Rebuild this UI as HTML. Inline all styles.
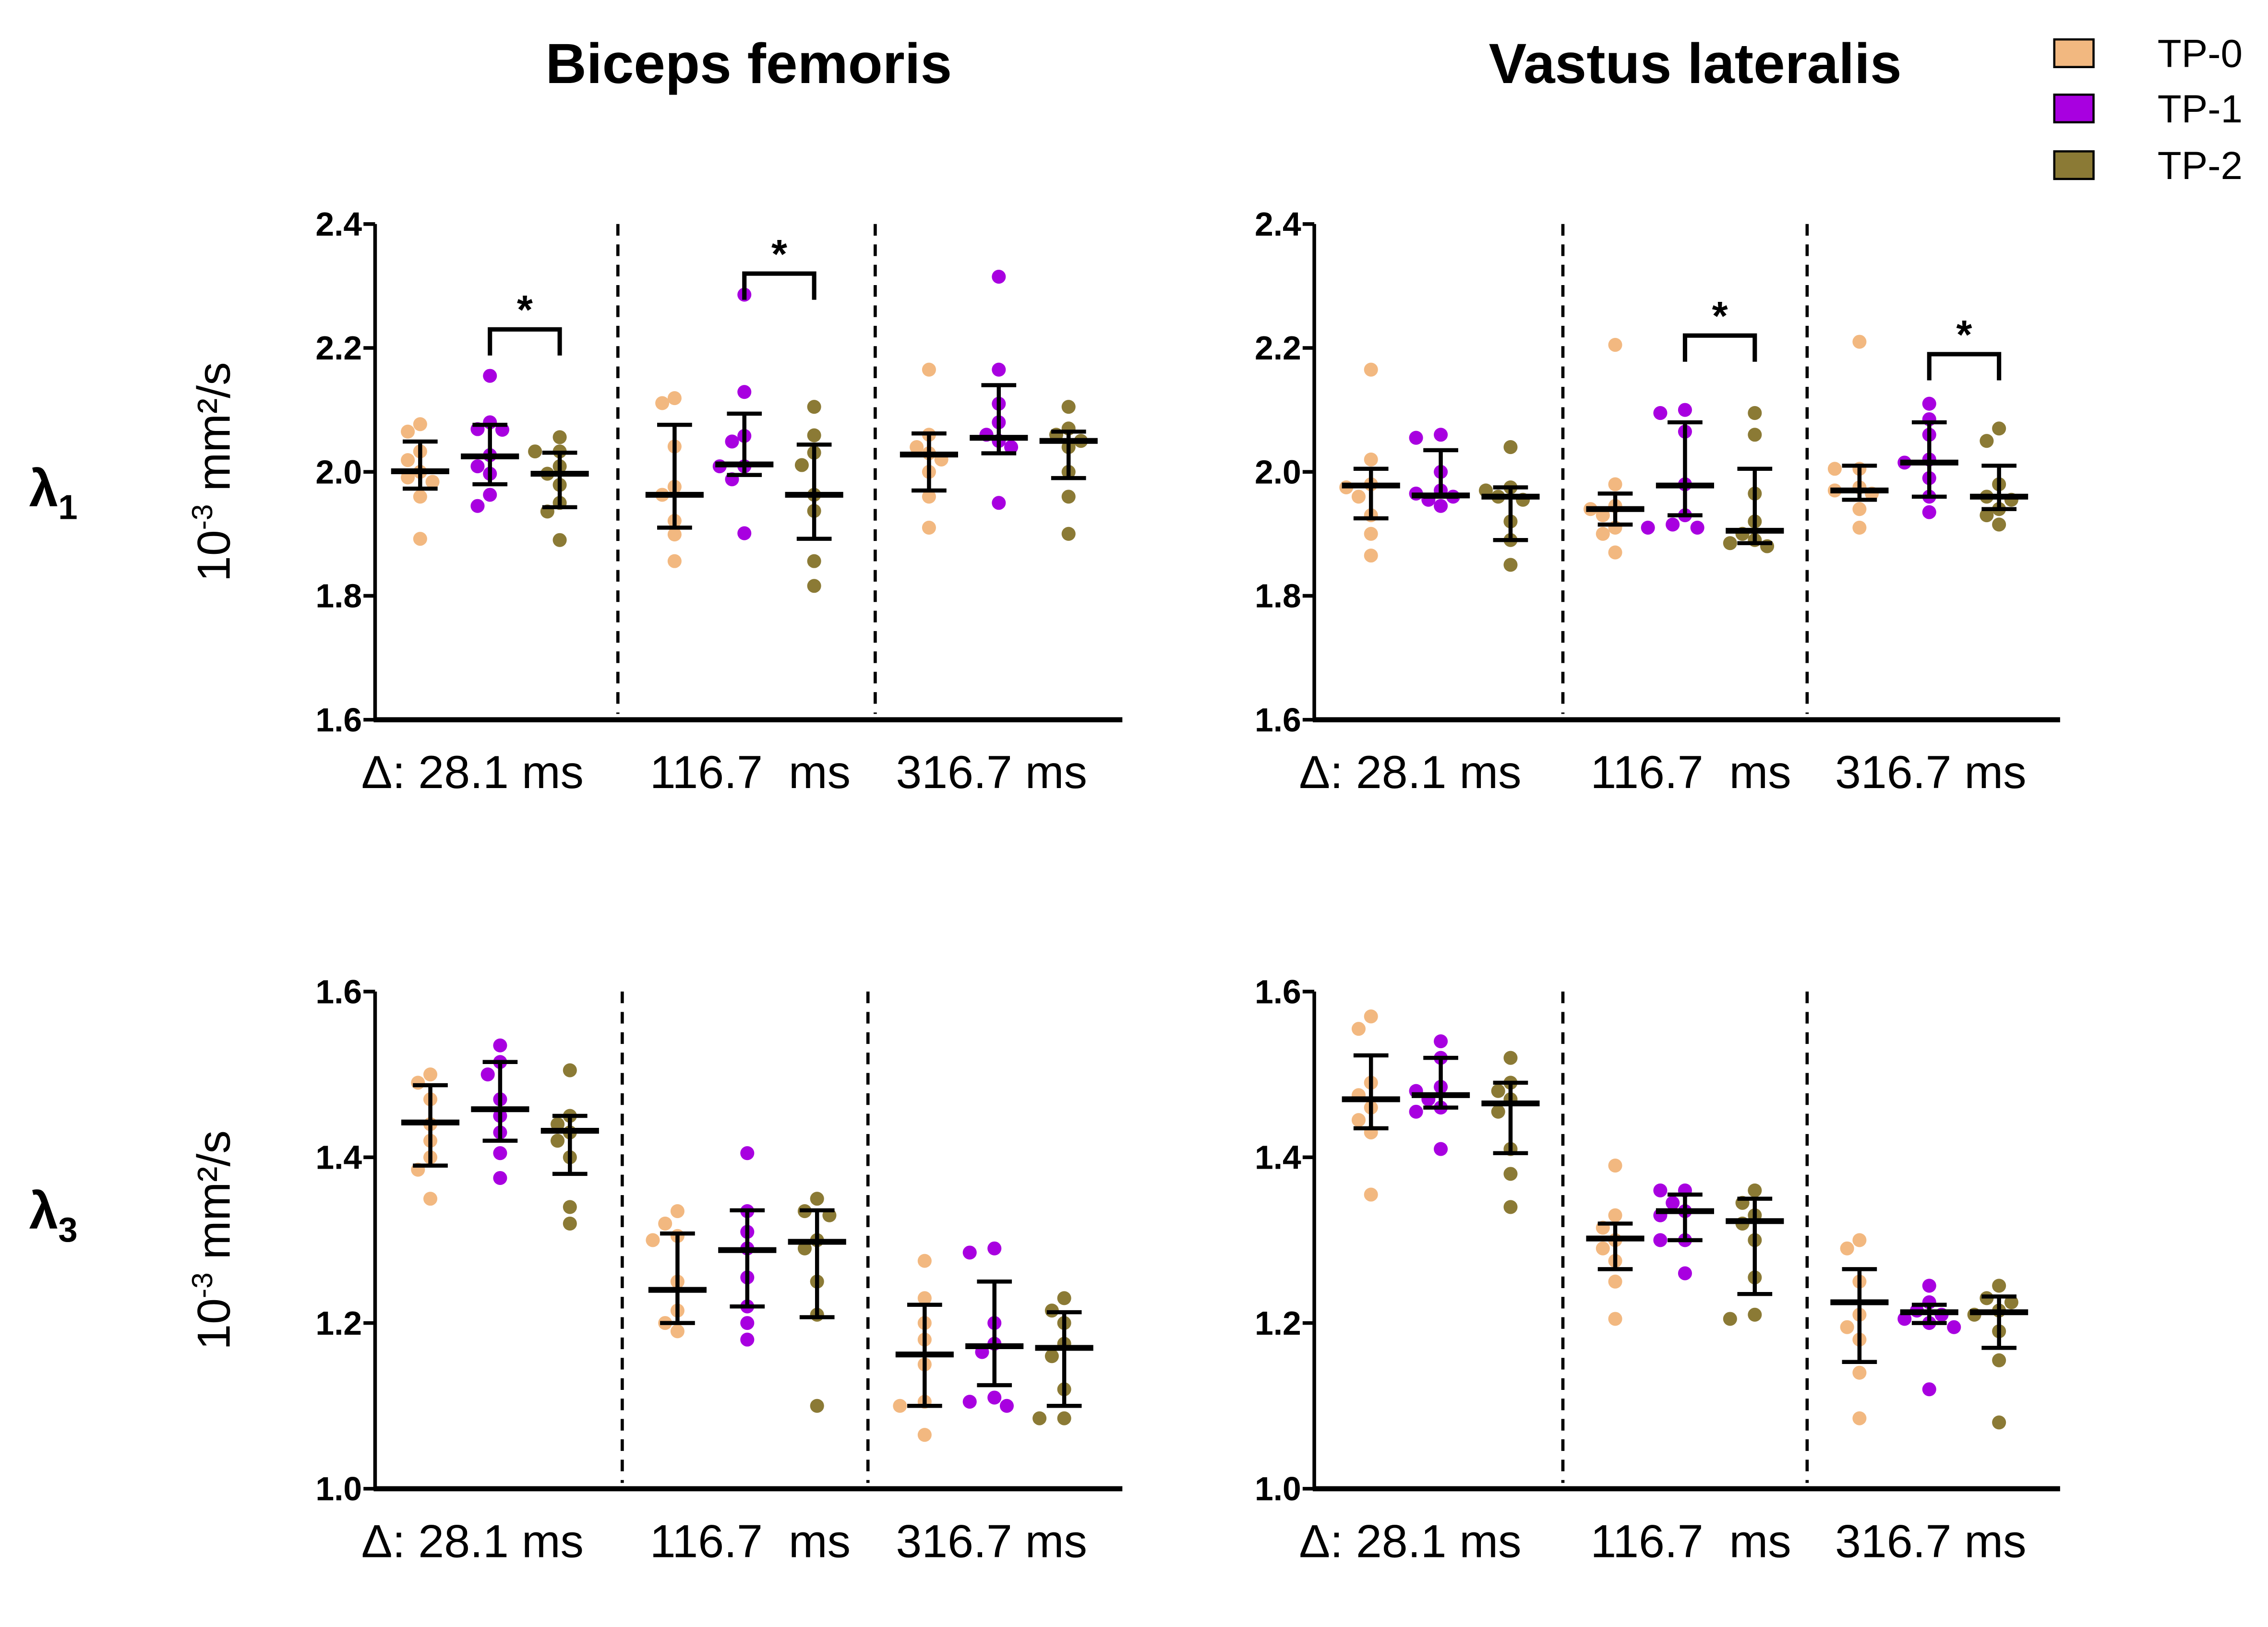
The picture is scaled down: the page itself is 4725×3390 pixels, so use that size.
<!DOCTYPE html>
<html><head><meta charset="utf-8"><style>
html,body{margin:0;padding:0;background:#fff;}
svg{display:block;font-family:"Liberation Sans",Arial,sans-serif;}
</style></head><body>
<svg id="chart" width="4725" height="3390" viewBox="0 0 1560 1119" xmlns="http://www.w3.org/2000/svg">
<text x="515" y="57" font-size="39" font-weight="bold" text-anchor="middle">Biceps femoris</text>
<text x="1166" y="57" font-size="39" font-weight="bold" text-anchor="middle">Vastus lateralis</text>
<text x="20" y="348" font-size="36" font-weight="bold">λ<tspan font-size="24" dy="9">1</tspan></text>
<text x="20" y="845" font-size="36" font-weight="bold">λ<tspan font-size="24" dy="9">3</tspan></text>
<g>
<rect x="1413" y="27" width="27" height="19" fill="#f2b880" stroke="#000" stroke-width="1.5"/>
<text x="1484" y="46" font-size="27">TP-0</text>
<rect x="1413" y="65" width="27" height="19" fill="#a800e0" stroke="#000" stroke-width="1.5"/>
<text x="1484" y="84" font-size="27">TP-1</text>
<rect x="1413" y="104" width="27" height="19" fill="#8b7a35" stroke="#000" stroke-width="1.5"/>
<text x="1484" y="123" font-size="27">TP-2</text>
</g>
</svg>
<script>
const colors=["#f2b880","#a800e0","#8b7a35"];
const clusterLabels=["Δ: 28.1 ms","116.7  ms","316.7 ms"];
const bfL1Dots=[[[2.077,2.065,2.033,2.019,2.0,1.991,1.984,1.96,1.892],[2.155,2.069,2.08,2.068,2.027,2.009,1.997,1.963,1.945],[2.056,2.033,2.033,2.009,1.997,1.979,1.95,1.936,1.89]],
[[2.111,2.119,2.041,1.976,1.963,1.921,1.899,1.856],[2.286,2.129,2.058,2.049,2.009,2.009,1.988,1.901],[2.105,2.059,2.031,2.011,1.963,1.937,1.856,1.816]],
[[2.165,2.06,2.04,2.03,2.02,2.0,1.96,1.91],[2.315,2.165,2.11,2.08,2.06,2.05,2.04,1.95],[2.105,2.07,2.06,2.05,2.04,2.0,1.96,1.9]]];
const bfL1Stats=[[[2.001,2.049,1.973],[2.025,2.076,1.98],[1.997,2.031,1.943]],[[1.963,2.076,1.91],[2.012,2.094,1.995],[1.963,2.044,1.892]],[[2.028,2.062,1.97],[2.055,2.14,2.03],[2.05,2.065,1.99]]];
const vlL1Dots=[[[2.165,2.02,1.98,1.975,1.96,1.93,1.9,1.865],[2.06,2.055,2.0,1.97,1.965,1.96,1.955,1.945],[2.04,1.975,1.97,1.96,1.955,1.92,1.89,1.85]],
[[2.205,1.98,1.945,1.94,1.93,1.91,1.9,1.87],[2.1,2.095,2.065,1.98,1.93,1.915,1.91,1.91],[2.095,2.06,1.965,1.92,1.9,1.89,1.885,1.88]],
[[2.21,2.005,2.005,1.975,1.97,1.965,1.94,1.91],[2.11,2.085,2.06,2.02,2.015,1.99,1.96,1.935],[2.07,2.05,1.98,1.96,1.955,1.94,1.93,1.915]]];
const vlL1Stats=[[[1.978,2.005,1.925],[1.962,2.035,1.96],[1.96,1.975,1.89]],[[1.94,1.965,1.915],[1.978,2.08,1.93],[1.905,2.005,1.885]],[[1.97,2.01,1.955],[2.015,2.08,1.96],[1.96,2.01,1.94]]];
const bfL3Dots=[[[1.5,1.49,1.47,1.44,1.42,1.4,1.385,1.35],[1.535,1.515,1.5,1.47,1.45,1.43,1.405,1.375],[1.505,1.45,1.44,1.43,1.42,1.4,1.34,1.32]],
[[1.335,1.32,1.305,1.3,1.25,1.215,1.2,1.19],[1.405,1.335,1.31,1.29,1.255,1.22,1.2,1.18],[1.35,1.335,1.33,1.3,1.29,1.25,1.21,1.1]],
[[1.275,1.23,1.2,1.18,1.15,1.105,1.1,1.065],[1.29,1.285,1.2,1.175,1.165,1.11,1.105,1.1],[1.23,1.215,1.2,1.175,1.16,1.12,1.085,1.085]]];
const bfL3Stats=[[[1.442,1.487,1.39],[1.458,1.515,1.42],[1.432,1.45,1.38]],[[1.24,1.308,1.2],[1.288,1.336,1.22],[1.298,1.336,1.207]],[[1.162,1.222,1.1],[1.172,1.25,1.125],[1.17,1.213,1.1]]];
const vlL3Dots=[[[1.57,1.555,1.49,1.475,1.46,1.445,1.43,1.355],[1.54,1.52,1.485,1.48,1.47,1.46,1.455,1.41],[1.52,1.49,1.48,1.47,1.455,1.41,1.38,1.34]],
[[1.39,1.33,1.315,1.3,1.29,1.275,1.25,1.205],[1.36,1.36,1.345,1.335,1.33,1.3,1.3,1.26],[1.36,1.345,1.33,1.32,1.3,1.255,1.21,1.205]],
[[1.3,1.29,1.25,1.21,1.195,1.18,1.14,1.085],[1.245,1.225,1.215,1.21,1.205,1.2,1.195,1.12],[1.245,1.23,1.225,1.215,1.21,1.19,1.155,1.08]]];
const vlL3Stats=[[[1.47,1.523,1.435],[1.475,1.52,1.46],[1.465,1.49,1.405]],[[1.302,1.32,1.265],[1.335,1.355,1.3],[1.323,1.35,1.235]],[[1.225,1.265,1.153],[1.213,1.222,1.2],[1.213,1.232,1.17]]];
const l1Ticks=[1.6,1.8,2.0,2.2,2.4];
const l3Ticks=[1.0,1.2,1.4,1.6];
const bfL1Sig=[[0,1,2,2.23],[1,1,2,2.32]];
const vlL1Sig=[[1,1,2,2.22],[2,1,2,2.19]];

const NS="http://www.w3.org/2000/svg";
const svg=document.getElementById('chart');
function mk(tag,attrs,parent){const e=document.createElementNS(NS,tag);for(const k in attrs)e.setAttribute(k,attrs[k]);(parent||svg).appendChild(e);return e;}

function panel(name,cfg,dots,stats,ticks,sig){
  const g=mk('g',{});
  
  
  const ymin=ticks[0],ymax=ticks[ticks.length-1];
  const Y=v=>cfg.bottom-(v-ymin)/(ymax-ymin)*(cfg.bottom-cfg.top);
  const X=(c,t)=>cfg.c0+c*cfg.cstep+t*48;
  const ya=mk('line',{x1:cfg.ax,y1:cfg.top,x2:cfg.ax,y2:cfg.bottom,stroke:'#000','stroke-width':2.5},g);
  
  
  const xa=mk('line',{x1:cfg.ax-1,y1:cfg.bottom,x2:cfg.xend,y2:cfg.bottom,stroke:'#000','stroke-width':3.5},g);
  
  
  ticks.forEach(t=>{
    const tk=mk('line',{x1:cfg.ax-8,y1:Y(t),x2:cfg.ax,y2:Y(t),stroke:'#000','stroke-width':2.5},g);
    
    
    const tl=mk('text',{x:cfg.ax-9,y:Y(t)+8,'font-size':23,'font-weight':'bold','text-anchor':'end'},g);
    tl.textContent=t.toFixed(1);
    
    
  });
  if(cfg.ytitle){
    const yt=mk('text',{transform:`translate(${cfg.ax-100},${(cfg.top+cfg.bottom)/2}) rotate(-90)`,'font-size':32,'text-anchor':'middle'},g);
    yt.innerHTML='10<tspan font-size="20" dy="-12">-3</tspan><tspan dy="12"> mm²/s</tspan>';
    
    
  }
  cfg.dash.forEach(dx=>{
    const d=mk('line',{x1:dx,y1:cfg.top,x2:dx,y2:cfg.bottom-4,stroke:'#000','stroke-width':2.2,'stroke-dasharray':'8,6'},g);
    
    
  });
  clusterLabels.forEach((lab,c)=>{
    const t=mk('text',{x:cfg.lx[c],y:cfg.bottom+47,'font-size':32,'text-anchor':'middle'},g);
    t.setAttribute('style','white-space:pre');
    t.textContent=lab;
    
    
  });
  dots.forEach((cl,c)=>cl.forEach((vals,t)=>{
    const cx=X(c,t);
    const placed=[];
    const sorted=vals.slice().sort((a,b)=>b-a);
    sorted.forEach(v=>{
      const y=Y(v);
      const offs=[0,-1,1,-2,2,-3,3,-4,4];
      let ox=cx;
      for(const o of offs){
        const x=cx+o*8.5;
        if(!placed.some(p=>Math.hypot(p[0]-x,p[1]-y)<9)){ox=x;break;}
      }
      placed.push([ox,y]);
      const dot=mk('circle',{cx:ox,cy:y,r:4.8,fill:colors[t]},g);
      
      
    });
  }));
  stats.forEach((cl,c)=>cl.forEach((s,t)=>{
    const cx=X(c,t);
    const eb=mk('path',{d:`M${cx},${Y(s[1])}V${Y(s[2])}M${cx-12},${Y(s[1])}H${cx+12}M${cx-12},${Y(s[2])}H${cx+12}`,stroke:'#000','stroke-width':2.8,fill:'none'},g);
    
    
    const mb=mk('line',{x1:cx-20,y1:Y(s[0]),x2:cx+20,y2:Y(s[0]),stroke:'#000','stroke-width':4},g);
    
    
  }));
  (sig||[]).forEach(s=>{
    const x1=X(s[0],s[1]),x2=X(s[0],s[2]),y=Y(s[3]);
    const br=mk('path',{d:`M${x1},${y+18}V${y}H${x2}V${y+18}`,stroke:'#000','stroke-width':3,fill:'none'},g);
    
    
    const st=mk('text',{x:(x1+x2)/2,y:y-4,'font-size':28,'font-weight':'bold','text-anchor':'middle'},g);
    st.textContent='*';
    
    
  });
}
panel('panel-bf-lambda1',{ax:258,top:154,bottom:495,xend:772,c0:289,cstep:175,dash:[425,602],ytitle:true,lx:[325,516,682]},bfL1Dots,bfL1Stats,l1Ticks,bfL1Sig);
panel('panel-vl-lambda1',{ax:904,top:154,bottom:495,xend:1417,c0:943,cstep:168,dash:[1075,1243],lx:[970,1163,1328]},vlL1Dots,vlL1Stats,l1Ticks,vlL1Sig);
panel('panel-bf-lambda3',{ax:258,top:682,bottom:1024,xend:772,c0:296,cstep:170,dash:[428,597],ytitle:true,lx:[325,516,682]},bfL3Dots,bfL3Stats,l3Ticks,[]);
panel('panel-vl-lambda3',{ax:904,top:682,bottom:1024,xend:1417,c0:943,cstep:168,dash:[1075,1243],lx:[970,1163,1328]},vlL3Dots,vlL3Stats,l3Ticks,[]);
</script>
</body></html>
